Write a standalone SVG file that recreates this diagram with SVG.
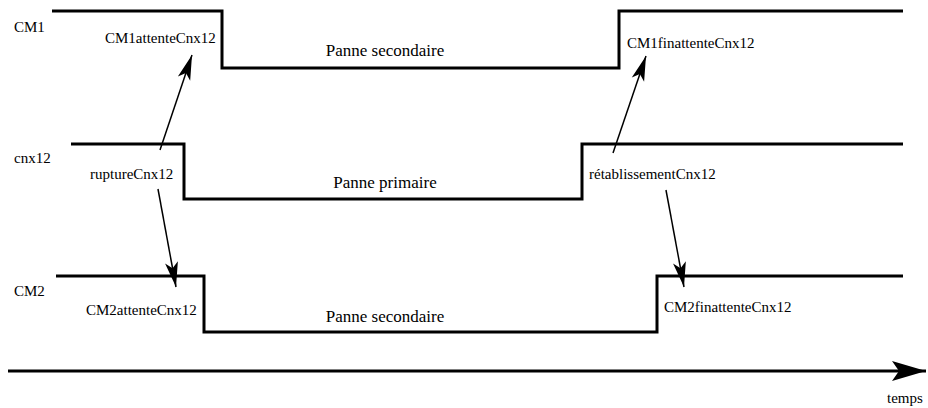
<svg xmlns="http://www.w3.org/2000/svg" width="928" height="408" viewBox="0 0 928 408">
<style>
text{font-family:"Liberation Serif","Times New Roman",serif;font-size:15px;fill:#000}
.big{font-size:17px}
.wave{fill:none;stroke:#000;stroke-width:3}
.conn{stroke:#000;stroke-width:1.5;fill:none}
</style>
<defs>
<marker id="ah" markerUnits="userSpaceOnUse" markerWidth="30" markerHeight="20" viewBox="-26 -10 30 20" refX="0" refY="0" orient="auto">
<path d="M0,0 L-25,-6.5 L-19,0 L-25,6.5 Z" fill="#000"/>
</marker>
<marker id="big" markerUnits="userSpaceOnUse" markerWidth="40" markerHeight="24" viewBox="-36 -12 40 24" refX="0" refY="0" orient="auto">
<path d="M0,0 L-34,-10 L-27,0 L-34,10 Z" fill="#000"/>
</marker>
</defs>
<rect width="928" height="408" fill="#fff"/>
<g id="CM1">
<path class="wave" d="M52,11 H222 V68 H619 V11 H903"/>
<text x="14" y="32">CM1</text>
<text x="105" y="43">CM1attenteCnx12</text>
<text class="big" x="385" y="56" text-anchor="middle">Panne secondaire</text>
<text x="627" y="48">CM1finattenteCnx12</text>
</g>
<g id="cnx12">
<path class="wave" d="M71,144 H184 V199 H582 V144 H903"/>
<text x="14" y="163">cnx12</text>
<text x="90" y="179">ruptureCnx12</text>
<text class="big" x="385" y="188" text-anchor="middle">Panne primaire</text>
<text x="589" y="179">rétablissementCnx12</text>
</g>
<g id="CM2">
<path class="wave" d="M56,276 H204 V332 H657 V276 H903"/>
<text x="14" y="296">CM2</text>
<text x="86" y="315">CM2attenteCnx12</text>
<text class="big" x="385" y="322" text-anchor="middle">Panne secondaire</text>
<text x="664" y="312">CM2finattenteCnx12</text>
</g>
<g id="axis">
<line class="wave" x1="8" y1="371" x2="926" y2="371" marker-end="url(#big)"/>
<text x="887" y="403">temps</text>
</g>
<g id="connectors">
<line class="conn" x1="160" y1="150" x2="192" y2="55" marker-end="url(#ah)"/>
<line class="conn" x1="158" y1="189" x2="176" y2="287" marker-end="url(#ah)"/>
<line class="conn" x1="613" y1="153" x2="646" y2="56" marker-end="url(#ah)"/>
<line class="conn" x1="666" y1="190" x2="684" y2="287" marker-end="url(#ah)"/>
</g>
</svg>
